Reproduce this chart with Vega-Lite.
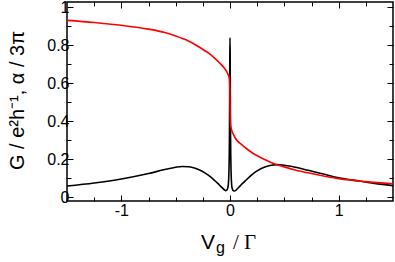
{
  "$schema": "https://vega.github.io/schema/vega-lite/v6.json",
  "width": 326,
  "height": 199,
  "autosize": {"type": "none"},
  "padding": {"left": 67, "top": 2, "right": 2, "bottom": 61},
  "background": "white",
  "config": {
    "view": {"stroke": "#000", "strokeWidth": 1.5},
    "axis": {
      "domain": false,
      "grid": false,
      "tickColor": "#000",
      "tickWidth": 1,
      "labelFont": "Liberation Sans",
      "titleFont": "Liberation Sans",
      "labelColor": "#000",
      "titleColor": "#000",
      "labelFontSize": 16,
      "titleFontWeight": "normal"
    }
  },
  "data": {
    "values": [
      {"s": "G", "x": -1.5, "y": 0.058},
      {"s": "G", "x": -1.25, "y": 0.074},
      {"s": "G", "x": -1.0, "y": 0.095},
      {"s": "G", "x": -0.75, "y": 0.124},
      {"s": "G", "x": -0.6, "y": 0.145},
      {"s": "G", "x": -0.5, "y": 0.157},
      {"s": "G", "x": -0.44, "y": 0.161},
      {"s": "G", "x": -0.38, "y": 0.16},
      {"s": "G", "x": -0.32, "y": 0.152},
      {"s": "G", "x": -0.26, "y": 0.137},
      {"s": "G", "x": -0.2, "y": 0.115},
      {"s": "G", "x": -0.15, "y": 0.092},
      {"s": "G", "x": -0.1, "y": 0.065},
      {"s": "G", "x": -0.07, "y": 0.048},
      {"s": "G", "x": -0.05, "y": 0.037},
      {"s": "G", "x": -0.04, "y": 0.034},
      {"s": "G", "x": -0.03, "y": 0.036},
      {"s": "G", "x": -0.02, "y": 0.05},
      {"s": "G", "x": -0.015, "y": 0.068},
      {"s": "G", "x": -0.01, "y": 0.13},
      {"s": "G", "x": -0.007, "y": 0.22},
      {"s": "G", "x": -0.005, "y": 0.33},
      {"s": "G", "x": -0.003, "y": 0.55},
      {"s": "G", "x": -0.0015, "y": 0.75},
      {"s": "G", "x": 0, "y": 0.84},
      {"s": "G", "x": 0.0015, "y": 0.75},
      {"s": "G", "x": 0.003, "y": 0.55},
      {"s": "G", "x": 0.005, "y": 0.33},
      {"s": "G", "x": 0.007, "y": 0.22},
      {"s": "G", "x": 0.01, "y": 0.13},
      {"s": "G", "x": 0.015, "y": 0.066},
      {"s": "G", "x": 0.02, "y": 0.046},
      {"s": "G", "x": 0.03, "y": 0.034},
      {"s": "G", "x": 0.04, "y": 0.032},
      {"s": "G", "x": 0.05, "y": 0.034},
      {"s": "G", "x": 0.07, "y": 0.045},
      {"s": "G", "x": 0.1, "y": 0.063},
      {"s": "G", "x": 0.14, "y": 0.085},
      {"s": "G", "x": 0.2, "y": 0.117},
      {"s": "G", "x": 0.25, "y": 0.138},
      {"s": "G", "x": 0.32, "y": 0.158},
      {"s": "G", "x": 0.38, "y": 0.168},
      {"s": "G", "x": 0.43, "y": 0.171},
      {"s": "G", "x": 0.5, "y": 0.168},
      {"s": "G", "x": 0.57, "y": 0.161},
      {"s": "G", "x": 0.72, "y": 0.141},
      {"s": "G", "x": 0.87, "y": 0.12},
      {"s": "G", "x": 1.0, "y": 0.102},
      {"s": "G", "x": 1.18, "y": 0.085},
      {"s": "G", "x": 1.33, "y": 0.072},
      {"s": "G", "x": 1.5, "y": 0.06},
      {"s": "a", "x": -1.5, "y": 0.932},
      {"s": "a", "x": -1.25, "y": 0.921},
      {"s": "a", "x": -1.0, "y": 0.906},
      {"s": "a", "x": -0.75, "y": 0.886},
      {"s": "a", "x": -0.6, "y": 0.868},
      {"s": "a", "x": -0.5, "y": 0.85},
      {"s": "a", "x": -0.4, "y": 0.828},
      {"s": "a", "x": -0.3, "y": 0.797},
      {"s": "a", "x": -0.2, "y": 0.76},
      {"s": "a", "x": -0.15, "y": 0.737},
      {"s": "a", "x": -0.1, "y": 0.71},
      {"s": "a", "x": -0.07, "y": 0.692},
      {"s": "a", "x": -0.05, "y": 0.678},
      {"s": "a", "x": -0.03, "y": 0.662},
      {"s": "a", "x": -0.02, "y": 0.65},
      {"s": "a", "x": -0.01, "y": 0.635},
      {"s": "a", "x": -0.005, "y": 0.62},
      {"s": "a", "x": -0.003, "y": 0.6},
      {"s": "a", "x": -0.0015, "y": 0.56},
      {"s": "a", "x": 0, "y": 0.5},
      {"s": "a", "x": 0.0015, "y": 0.44},
      {"s": "a", "x": 0.003, "y": 0.4},
      {"s": "a", "x": 0.005, "y": 0.38},
      {"s": "a", "x": 0.01, "y": 0.365},
      {"s": "a", "x": 0.02, "y": 0.345},
      {"s": "a", "x": 0.03, "y": 0.332},
      {"s": "a", "x": 0.05, "y": 0.31},
      {"s": "a", "x": 0.07, "y": 0.295},
      {"s": "a", "x": 0.1, "y": 0.28},
      {"s": "a", "x": 0.15, "y": 0.256},
      {"s": "a", "x": 0.2, "y": 0.235},
      {"s": "a", "x": 0.3, "y": 0.203},
      {"s": "a", "x": 0.4, "y": 0.177},
      {"s": "a", "x": 0.5, "y": 0.159},
      {"s": "a", "x": 0.6, "y": 0.143},
      {"s": "a", "x": 0.75, "y": 0.124},
      {"s": "a", "x": 1.0, "y": 0.097},
      {"s": "a", "x": 1.25, "y": 0.081},
      {"s": "a", "x": 1.5, "y": 0.07}
    ]
  },
  "layer": [
    {
      "transform": [{"filter": "datum.s === 'G'"}],
      "mark": {"type": "line", "color": "#000", "strokeWidth": 1.6, "interpolate": "monotone"},
      "encoding": {
        "x": {
          "field": "x", "type": "quantitative",
          "scale": {"domain": [-1.5, 1.5], "nice": false, "zero": false},
          "axis": {
            "orient": "bottom",
            "values": [-1.25, -1, -0.75, -0.5, -0.25, 0, 0.25, 0.5, 0.75, 1, 1.25],
            "tickSize": {"condition": {"test": "abs(datum.value % 1) < 1e-9", "value": -6}, "value": -4},
            "labelExpr": "abs(datum.value % 1) < 1e-9 ? '' + datum.value : ''",
            "labelPadding": 7,
            "title": "V",
            "titleFontSize": 21,
            "titleX": 140.5,
            "titleY": 47,
            "titleAlign": "center",
            "titleBaseline": "alphabetic"
          }
        },
        "y": {
          "field": "y", "type": "quantitative",
          "scale": {"domain": [-0.021, 1.029], "nice": false, "zero": false},
          "axis": {
            "orient": "left",
            "values": [0, 0.1, 0.2, 0.3, 0.4, 0.5, 0.6, 0.7, 0.8, 0.9, 1],
            "tickSize": {"condition": {"test": "abs(datum.value * 5 - round(datum.value * 5)) < 1e-6", "value": -6}, "value": -4},
            "labelExpr": "abs(datum.value * 5 - round(datum.value * 5)) < 1e-6 ? '' + datum.value : ''",
            "labelPadding": 4,
            "title": "G / e²h⁻¹, α / 3π",
            "titleFontSize": 20,
            "titleX": -44,
            "titleY": 98,
            "titleAngle": -90,
            "titleAlign": "center",
            "titleBaseline": "alphabetic"
          }
        }
      }
    },
    {
      "transform": [{"filter": "datum.s === 'a'"}],
      "mark": {"type": "line", "color": "#ff0000", "strokeWidth": 1.6, "interpolate": "monotone"},
      "encoding": {
        "x": {
          "field": "x", "type": "quantitative",
          "axis": {
            "orient": "top",
            "values": [-1.25, -1, -0.75, -0.5, -0.25, 0, 0.25, 0.5, 0.75, 1, 1.25],
            "tickSize": {"condition": {"test": "abs(datum.value % 1) < 1e-9", "value": -6}, "value": -4},
            "labels": false,
            "title": null
          }
        },
        "y": {
          "field": "y", "type": "quantitative",
          "axis": {
            "orient": "right",
            "values": [0, 0.1, 0.2, 0.3, 0.4, 0.5, 0.6, 0.7, 0.8, 0.9, 1],
            "tickSize": {"condition": {"test": "abs(datum.value * 5 - round(datum.value * 5)) < 1e-6", "value": -6}, "value": -4},
            "labels": false,
            "title": null
          }
        }
      }
    },
    {
      "transform": [{"filter": "datum.s === 'a'"}],
      "mark": {"type": "line", "opacity": 0},
      "encoding": {
        "x": {
          "field": "x", "type": "quantitative",
          "axis": {
            "orient": "bottom",
            "ticks": false,
            "labels": false,
            "title": "g",
            "titleFontSize": 16,
            "titleX": 153,
            "titleY": 51,
            "titleAlign": "center",
            "titleBaseline": "alphabetic"
          }
        },
        "y": {"field": "y", "type": "quantitative", "axis": null}
      }
    },
    {
      "transform": [{"filter": "datum.s === 'G'"}],
      "mark": {"type": "line", "opacity": 0},
      "encoding": {
        "x": {
          "field": "x", "type": "quantitative",
          "axis": {
            "orient": "bottom",
            "ticks": false,
            "labels": false,
            "title": "/  Γ",
            "titleFont": "Liberation Serif",
            "titleFontSize": 21,
            "titleX": 177,
            "titleY": 47,
            "titleAlign": "center",
            "titleBaseline": "alphabetic"
          }
        },
        "y": {"field": "y", "type": "quantitative", "axis": null}
      }
    }
  ],
  "resolve": {"axis": {"x": "independent", "y": "independent"}}
}
